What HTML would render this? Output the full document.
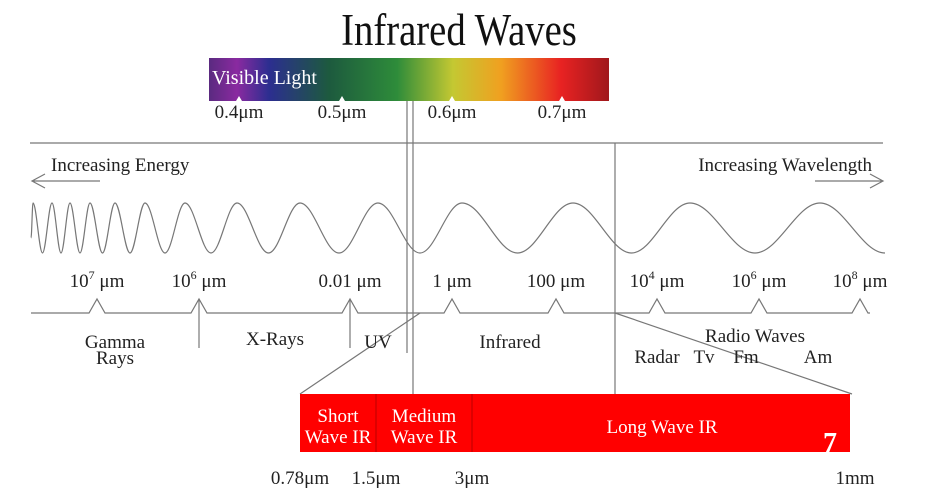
<!DOCTYPE html>
<html><head><meta charset="utf-8"><style>
html,body{margin:0;padding:0;background:#fff;}
svg{display:block;font-family:"Liberation Serif",serif;}
</style></head><body>
<svg id="s" width="927" height="500" viewBox="0 0 927 500" xmlns="http://www.w3.org/2000/svg">
<defs>
<linearGradient id="vis" x1="0" x2="1" y1="0" y2="0">
<stop offset="0" stop-color="#5a2a80"/><stop offset="0.07" stop-color="#8a2aa0"/>
<stop offset="0.15" stop-color="#2c2e90"/><stop offset="0.3" stop-color="#1d5a3e"/>
<stop offset="0.47" stop-color="#2e8c3a"/><stop offset="0.61" stop-color="#c4c832"/>
<stop offset="0.73" stop-color="#f0a020"/><stop offset="0.88" stop-color="#e82222"/>
<stop offset="1" stop-color="#a0181c"/>
</linearGradient>
</defs>
<text x="459" y="45" text-anchor="middle" font-size="45" transform="translate(459 0) scale(0.86 1) translate(-459 0)" fill="#111">Infrared Waves</text>
<rect x="209" y="58" width="400" height="43" fill="url(#vis)"/>
<text x="212" y="84" font-size="20" fill="#fff">Visible Light</text>
<g id="vt" font-size="19" fill="#222"></g>
<g stroke="#777" stroke-width="1.2" fill="none">
<line x1="30" y1="143" x2="883" y2="143"/>
<line x1="407" y1="101" x2="407" y2="353"/>
<line x1="413" y1="101" x2="413" y2="394"/>
<line x1="615" y1="143" x2="615" y2="394"/>
<path d="M100 181 H32 M45 174 L32 181 L45 188"/>
<path d="M815 181 H883 M870 174 L883 181 L870 188"/>
<path id="wave"/>
<path id="scale"/>
<line x1="199" y1="299" x2="199" y2="348"/>
<line x1="350" y1="299" x2="350" y2="348"/>
<line x1="420" y1="313" x2="300" y2="394"/>
<line x1="615" y1="313" x2="852" y2="394"/>
</g>
<text x="51" y="171" font-size="19" fill="#222">Increasing Energy</text>
<text x="872" y="171" font-size="19" text-anchor="end" fill="#222">Increasing Wavelength</text>
<g id="st" font-size="19" fill="#222" text-anchor="middle"></g>
<g font-size="19" fill="#222" text-anchor="middle">
<text x="115" y="348">Gamma</text>
<text x="115" y="364">Rays</text>
<text x="275" y="345">X-Rays</text>
<text x="378" y="348">UV</text>
<text x="510" y="348">Infrared</text>
<text x="755" y="342">Radio Waves</text>
<text x="657" y="363">Radar</text>
<text x="704" y="363">Tv</text>
<text x="746" y="363">Fm</text>
<text x="818" y="363">Am</text>
</g>
<rect x="300" y="394" width="550" height="58" fill="#f00"/>
<line x1="376" y1="394" x2="376" y2="452" stroke="#b00"/>
<line x1="472" y1="394" x2="472" y2="452" stroke="#b00"/>
<g font-size="19" fill="#fff" text-anchor="middle">
<text x="338" y="422">Short</text>
<text x="338" y="443">Wave IR</text>
<text x="424" y="422">Medium</text>
<text x="424" y="443">Wave IR</text>
<text x="662" y="433">Long Wave IR</text>
<text x="830" y="452" font-size="28" font-weight="bold">7</text>
</g>
<g font-size="19" fill="#222" text-anchor="middle">
<text x="300" y="484">0.78μm</text>
<text x="376" y="484">1.5μm</text>
<text x="472" y="484">3μm</text>
<text x="855" y="484">1mm</text>
</g>
</svg>
<script>
const visLabels=["0.4μm","0.5μm","0.6μm","0.7μm"];
const visX=[239,342,452,562];
const scaleLabels=["10<tspan dy='-8' font-size='12'>7</tspan><tspan dy='8'> μm</tspan>","10<tspan dy='-8' font-size='12'>6</tspan><tspan dy='8'> μm</tspan>","0.01 μm","1 μm","100 μm","10<tspan dy='-8' font-size='12'>4</tspan><tspan dy='8'> μm</tspan>","10<tspan dy='-8' font-size='12'>6</tspan><tspan dy='8'> μm</tspan>","10<tspan dy='-8' font-size='12'>8</tspan><tspan dy='8'> μm</tspan>"];
const scaleX=[97,199,350,452,556,657,759,860];
const wavePeaks=[33,52,70,90,115,145,185,237,300,378,462,573,690,820];
const ns="http://www.w3.org/2000/svg";
const vt=document.getElementById('vt');
visLabels.forEach((l,i)=>{
  const t=document.createElementNS(ns,'text');
  
  
  t.setAttribute('x',visX[i]);t.setAttribute('y',118);t.setAttribute('text-anchor','middle');
  t.textContent=l;vt.appendChild(t);
  const p=document.createElementNS(ns,'path');
  
  
  p.setAttribute('d',`M${visX[i]-3} 101 L${visX[i]} 96 L${visX[i]+3} 101Z`);p.setAttribute('fill','#fff');
  vt.appendChild(p);
});
const st=document.getElementById('st');
let d="M31 313";
scaleLabels.forEach((l,i)=>{
  const x=scaleX[i];
  d+=` L${x-8} 313 L${x} 299 L${x+8} 313`;
  const t=document.createElementNS(ns,'text');
  
  
  t.setAttribute('x',x);t.setAttribute('y',287);
  t.innerHTML=l;st.appendChild(t);
});
d+=" L870 313";
document.getElementById('scale').setAttribute('d',d);
const cy=228,A=25;let w="";
const pts=[];
for(let i=0;i<wavePeaks.length;i++){
  pts.push([wavePeaks[i],cy-A]);
  const nx=i<wavePeaks.length-1?wavePeaks[i+1]:wavePeaks[i]+(wavePeaks[i]-wavePeaks[i-1]);
  pts.push([(wavePeaks[i]+nx)/2,cy+A]);
}
w=`M31 ${cy+10}`;
let px=31,py=cy+10;
pts.forEach(([x,y])=>{
  if(x>888)x=888;
  const k=(x-px)*0.36;
  w+=` C${px+k} ${py} ${x-k} ${y} ${x} ${y}`;
  px=x;py=y;
});
document.getElementById('wave').setAttribute('d',w);
</script>
</body></html>
